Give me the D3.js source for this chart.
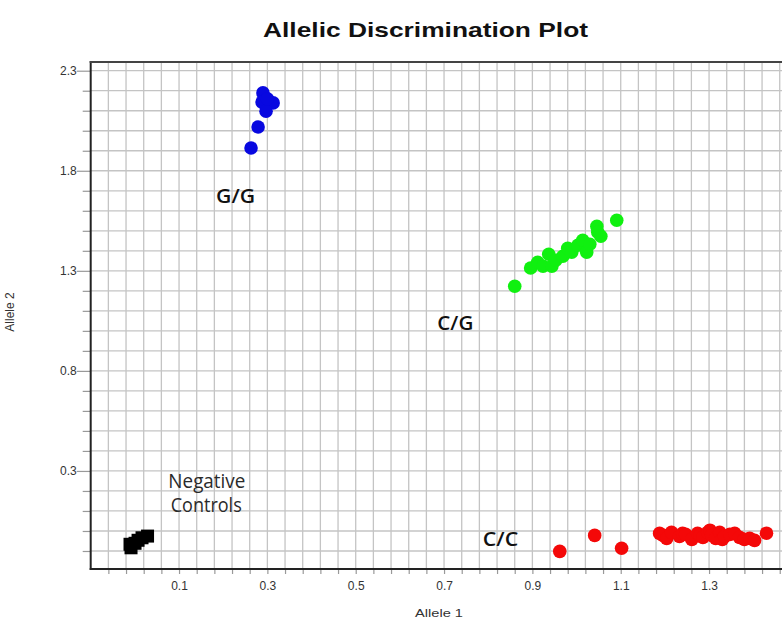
<!DOCTYPE html>
<html>
<head>
<meta charset="utf-8">
<script src="https://cdn.jsdelivr.net/npm/d3@7"></script>
<style>
  html, body { margin: 0; padding: 0; background: #fff; }
  svg { display: block; }
</style>
</head>
<body>
<svg id="chart" width="782" height="620"></svg>
<script>
// ---------- data ----------
const titleText = "Allelic Discrimination Plot";
const xTitle = "Allele 1";
const yTitle = "Allele 2";

const xTickLabels = [0.1, 0.3, 0.5, 0.7, 0.9, 1.1, 1.3];
const yTickLabels = [0.3, 0.8, 1.3, 1.8, 2.3];

// G/G (blue)
const ggX = [0.290, 0.288, 0.313, 0.297, 0.279, 0.263, 0.300];
const ggY = [2.189, 2.143, 2.139, 2.098, 2.019, 1.914, 2.160];

// C/G (green)
const cgX = [0.860, 0.896, 0.912, 0.924, 0.937, 0.944, 0.953, 0.969, 0.980, 0.989, 1.003, 1.014, 1.023, 1.030, 1.046, 1.055, 1.048, 1.091];
const cgY = [1.223, 1.314, 1.343, 1.323, 1.383, 1.323, 1.353, 1.373, 1.413, 1.393, 1.428, 1.453, 1.393, 1.433, 1.522, 1.473, 1.493, 1.553];

// C/C (red)
const ccX = [0.962, 1.041, 1.102, 1.430, 1.188, 1.196, 1.204, 1.215, 1.233, 1.240, 1.247, 1.261, 1.274, 1.280, 1.286, 1.297, 1.302, 1.306, 1.315, 1.324, 1.330, 1.335, 1.347, 1.358, 1.369, 1.380, 1.392, 1.403];
const ccY = [-0.102, -0.022, -0.086, -0.011, -0.012, -0.022, -0.037, -0.007, -0.027, -0.012, -0.017, -0.042, -0.012, -0.022, -0.032, -0.007, 0.004, -0.022, -0.037, -0.007, -0.042, -0.027, -0.017, -0.012, -0.032, -0.042, -0.037, -0.047];

// Negative controls (black squares)
const ntcX = [-0.0087, 0.0004, 0.0072, 0.0162, 0.0287, -0.011];
const ntcY = [-0.084, -0.0615, -0.0465, -0.034, -0.0255, -0.0665];

// cluster labels (data coordinates of text start / baseline)
const labelText = ["G/G", "C/G", "C/C"];
const labelX = [0.1838, 0.6848, 0.7876];
const labelY = [1.64, 1.0035, -0.0765];
const ntcLabelLines = ["Negative", "Controls"];
const ntcLabelX = [0.0758, 0.0812];
const ntcLabelY = [0.217, 0.095];

// ---------- layout ----------
const svg = d3.select("#chart");
const mLeft = 90.7, mRight = 797.4, mTop = 62, mBottom = 569;

const x = d3.scaleLinear().domain([-0.1, 1.5]).range([mLeft, mRight]);
const y = d3.scaleLinear().domain([-0.19, 2.3435]).range([mBottom, mTop]);

const gridX = d3.range(0, 41).map(k => +(-0.1 + 0.04 * k).toFixed(2));
const gridY = d3.range(0, 25).map(k => +(-0.1 + 0.1 * k).toFixed(1));

// grid
const grid = svg.append("g");
grid.selectAll("line.gx").data(gridX.filter(v => v > -0.1)).join("line")
  .attr("x1", d => x(d)).attr("x2", d => x(d))
  .attr("y1", mTop).attr("y2", mBottom)
  .attr("stroke", "#c4c4c4").attr("stroke-width", 1.3);
grid.selectAll("line.gy").data(gridY).join("line")
  .attr("x1", mLeft).attr("x2", 782)
  .attr("y1", d => y(d)).attr("y2", d => y(d))
  .attr("stroke", "#c4c4c4").attr("stroke-width", 1.3);

// axes
const fmt = d3.format(".1f");
const isMajorX = v => xTickLabels.some(t => Math.abs(t - v) < 1e-6);
const isMajorY = v => yTickLabels.some(t => Math.abs(t - v) < 1e-6);

const xAxis = svg.append("g").attr("transform", `translate(0,${mBottom})`)
  .call(d3.axisBottom(x).tickValues(gridX.filter(v => v > -0.1)).tickSize(5).tickPadding(14)
    .tickFormat(d => isMajorX(d) ? fmt(d) : ""));
xAxis.select(".domain").remove();
xAxis.selectAll(".tick line").attr("stroke", "#999").attr("stroke-width", 1.2);
xAxis.selectAll(".tick text").attr("font-family", "Arial, 'Liberation Sans', sans-serif")
  .attr("font-size", 12).attr("fill", "#333").attr("dy", "0.2em");

const yAxis = svg.append("g").attr("transform", `translate(${mLeft},0)`)
  .call(d3.axisLeft(y).tickValues(gridY).tickSize(8).tickPadding(6)
    .tickFormat(d => isMajorY(d) ? fmt(d) : ""));
yAxis.select(".domain").remove();
yAxis.selectAll(".tick line").attr("stroke", "#999").attr("stroke-width", 1.2)
  .attr("x2", d => isMajorY(d) ? -14 : -8);
yAxis.selectAll(".tick text").attr("font-family", "Arial, 'Liberation Sans', sans-serif")
  .attr("font-size", 12).attr("fill", "#333").attr("x", -14);

// frame lines
svg.append("line").attr("x1", mLeft).attr("x2", mLeft).attr("y1", mTop - 1).attr("y2", mBottom + 1)
  .attr("stroke", "#222").attr("stroke-width", 2);
svg.append("line").attr("x1", mLeft - 1).attr("x2", 782).attr("y1", mBottom).attr("y2", mBottom)
  .attr("stroke", "#222").attr("stroke-width", 2);
svg.append("line").attr("x1", mLeft - 1).attr("x2", 782).attr("y1", mTop).attr("y2", mTop)
  .attr("stroke", "#444").attr("stroke-width", 2);

// points
function circles(xs, ys, color) {
  svg.append("g").selectAll("circle").data(xs.map((v, i) => [v, ys[i]])).join("circle")
    .attr("cx", d => x(d[0])).attr("cy", d => y(d[1])).attr("r", 6.8)
    .attr("fill", color);
}
circles(ggX, ggY, "#0808e0");
circles(cgX, cgY, "#10f010");
circles(ccX, ccY, "#f40808");

const sq = 13;
svg.append("g").selectAll("rect").data(ntcX.map((v, i) => [v, ntcY[i]])).join("rect")
  .attr("x", d => x(d[0]) - sq / 2).attr("y", d => y(d[1]) - sq / 2)
  .attr("width", sq).attr("height", sq).attr("fill", "#000");

// cluster labels
const labelW = [39, 36, 35.5];
svg.append("g").selectAll("text").data(labelText).join("text")
  .attr("x", (d, i) => x(labelX[i])).attr("y", (d, i) => y(labelY[i]))
  .attr("font-family", "'Open Sans', sans-serif").attr("font-size", 20).attr("font-weight", 600)
  .attr("fill", "#111")
  .attr("textLength", (d, i) => labelW[i]).attr("lengthAdjust", "spacingAndGlyphs")
  .text(d => d);

const ntcW = [77, 71];
svg.append("g").selectAll("text").data(ntcLabelLines).join("text")
  .attr("x", (d, i) => x(ntcLabelX[i])).attr("y", (d, i) => y(ntcLabelY[i]))
  .attr("font-family", "'Open Sans', sans-serif").attr("font-size", 19.5)
  .attr("fill", "#2a2a2a")
  .attr("textLength", (d, i) => ntcW[i]).attr("lengthAdjust", "spacingAndGlyphs")
  .text(d => d);

// title
svg.append("text").attr("x", 263).attr("y", 37)
  .attr("font-family", "Arial, 'Liberation Sans', sans-serif").attr("font-weight", "bold")
  .attr("font-size", 20.5).attr("fill", "#111")
  .attr("textLength", 325).attr("lengthAdjust", "spacingAndGlyphs")
  .text(titleText);

// axis titles
svg.append("text").attr("x", 415).attr("y", 617)
  .attr("font-family", "Arial, 'Liberation Sans', sans-serif").attr("font-size", 11.5)
  .attr("fill", "#333").attr("textLength", 48).attr("lengthAdjust", "spacingAndGlyphs")
  .text(xTitle);
svg.append("text").attr("transform", "translate(14,312) rotate(-90)")
  .attr("text-anchor", "middle")
  .attr("font-family", "Arial, 'Liberation Sans', sans-serif").attr("font-size", 12)
  .attr("fill", "#333")
  .text(yTitle);
</script>
</body>
</html>
